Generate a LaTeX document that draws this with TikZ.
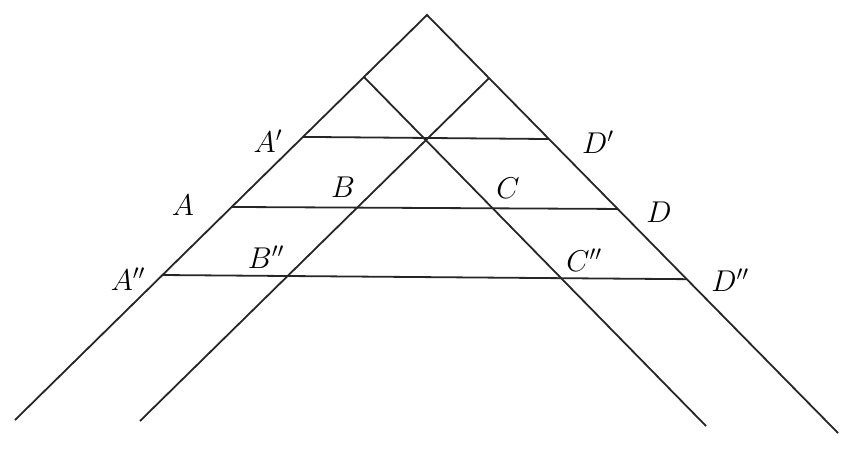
\documentclass[tikz,border=0pt]{standalone}
\usetikzlibrary{calc}
\begin{document}
\begin{tikzpicture}[x=1pt,y=-1pt,
  geo/.style={line width=1.8pt, draw=black!85},
  lbl/.style={inner sep=0pt, font=\huge, scale=1.45}]
\useasboundingbox (0,0) rectangle (857,450);
% apex and far ends
\coordinate (P) at (427,15);
\coordinate (LO) at (15,420);
\coordinate (RO) at (838,433);
\coordinate (Q1) at ($(P)!0.153!(LO)$);
\coordinate (Q2) at ($(P)!0.151!(RO)$);
\coordinate (LI) at (140,421);
\coordinate (RI) at (706,426);
% horizontal line ends
\coordinate (pA1) at ($(P)!0.301!(LO)$);
\coordinate (pD1) at ($(P)!0.2967!(RO)$);
\coordinate (pA) at ($(P)!0.474!(LO)$);
\coordinate (pD) at ($(P)!0.464!(RO)$);
\coordinate (pA2) at ($(P)!0.642!(LO)$);
\coordinate (pD2) at ($(P)!0.632!(RO)$);
% lines
\draw[geo] (LO) -- (P) -- (RO);
\draw[geo] (Q1) -- (RI);
\draw[geo] (Q2) -- (LI);
\draw[geo] (pA1) -- (pD1);
\draw[geo] (pA) -- (pD);
\draw[geo] (pA2) -- (pD2);
% labels
\node[lbl] (lA1) at (268,141) {$A'$};
\node[lbl] (lA) at (183,205) {$A$};
\node[lbl] (lA2) at (128,279) {$A''$};
\node[lbl] (lB) at (343,187) {$B$};
\node[lbl] (lB2) at (266,257) {$B''$};
\node[lbl] (lC) at (508,188) {$C$};
\node[lbl] (lC2) at (584,260) {$C''$};
\node[lbl] (lD1) at (598,142) {$D'$};
\node[lbl] (lD) at (659,212) {$D$};
\node[lbl] (lD2) at (730,280) {$D''$};
\end{tikzpicture}
\end{document}
